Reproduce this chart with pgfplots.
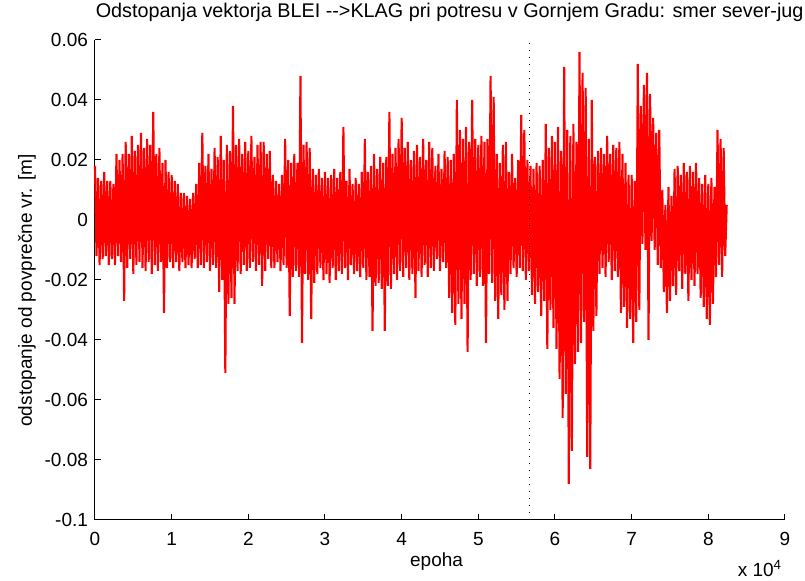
\documentclass[border=0pt]{standalone}
\usepackage{pgfplots}
\pgfplotsset{compat=1.18}
\usepackage{fontspec}
\setmainfont{Liberation Sans}

\begin{document}
\begin{tikzpicture}
\path[use as bounding box] (-47.5pt,-30.5pt) rectangle (355pt,260pt);
\begin{axis}[
  at={(0,0)}, anchor=south west,
  scale only axis,
  width=345pt, height=240pt,
  font=\fontsize{9.5}{11}\selectfont,
  xmin=0, xmax=9,
  ymin=-100, ymax=60,  % y in thousandths of a metre
  axis lines*=left,
  axis line style={black, line width=0.5pt},
  tick align=inside,
  major tick length=3pt,
  tick style={black, line width=0.5pt},
  xtick={0,1,...,9},
  xticklabels={0,1,2,3,4,5,6,7,8,9},
  ytick={-100,-80,-60,-40,-20,0,20,40,60},
  yticklabels={-0.1,-0.08,-0.06,-0.04,-0.02,0,0.02,0.04,0.06},
  xticklabel style={yshift=-2.5pt},
  title={Odstopanja vektorja BLEI -{}->KLAG pri potresu v Gornjem Gradu: smer sever-jug},
  title style={at={(axis description cs:0.514,1)}, anchor=base, yshift=5pt, font=\fontsize{9.9}{11}\selectfont},
  xlabel={epoha},
  xlabel style={at={(axis description cs:0.495,0)}, anchor=center, yshift=-21pt},
  ylabel={odstopanje od povprečne vr. [m]},
  ylabel style={at={(axis description cs:0,0.478)}, anchor=center, yshift=34pt},
  clip=false,
]
% one sample every 200 epochs (0.02 x 10^4), values in mm
\addplot[color=red, line width=1.05pt] table[row sep=\\, x expr=\coordindex/50, y=y] {
y\\
18\\ -12\\ 14\\ -15\\ 13\\ -13\\ 16\\ -12\\ 13\\ -15\\
13\\ -13\\ 12\\ -15\\ 22\\ -12\\ 20\\ -14\\ 22\\ -27\\
26\\ -16\\ 22\\ -13\\ 28\\ -18\\ 23\\ -15\\ 25\\ -14\\
29\\ -16\\ 24\\ -17\\ 27\\ -14\\ 25\\ -18\\ 36\\ -15\\
22\\ -17\\ 24\\ -14\\ 19\\ -31\\ 20\\ -16\\ 16\\ -14\\
15\\ -16\\ 13\\ -14\\ 12\\ -17\\ 9\\ -14\\ 9\\ -16\\
8\\ -15\\ 7\\ -16\\ 9\\ -13\\ 12\\ -16\\ 19\\ -15\\
29\\ -16\\ 18\\ -14\\ 22\\ -17\\ 17\\ -15\\ 24\\ -16\\
21\\ -24\\ 28\\ -20\\ 20\\ -51\\ 25\\ -28\\ 23\\ -26\\
38\\ -28\\ 25\\ -17\\ 27\\ -18\\ 22\\ -15\\ 26\\ -17\\
23\\ -16\\ 28\\ -14\\ 21\\ -17\\ 25\\ -15\\ 26\\ -22\\
26\\ -17\\ 22\\ -13\\ 23\\ -16\\ 15\\ -16\\ 13\\ -14\\
12\\ -17\\ 15\\ -15\\ 27\\ -16\\ 20\\ -32\\ 19\\ -19\\
22\\ -17\\ 19\\ -19\\ 48\\ -41\\ 25\\ -18\\ 26\\ -20\\
24\\ -33\\ 17\\ -21\\ 15\\ -18\\ 17\\ -16\\ 14\\ -20\\
16\\ -18\\ 14\\ -21\\ 15\\ -16\\ 17\\ -20\\ 14\\ -17\\
16\\ -18\\ 31\\ -16\\ 13\\ -20\\ 17\\ -15\\ 12\\ -18\\
14\\ -17\\ 12\\ -19\\ 16\\ -16\\ 27\\ -20\\ 16\\ -19\\
18\\ -37\\ 22\\ -22\\ 17\\ -21\\ 21\\ -23\\ 19\\ -37\\
21\\ -22\\ 36\\ -23\\ 22\\ -18\\ 24\\ -20\\ 27\\ -17\\
34\\ -19\\ 24\\ -16\\ 26\\ -20\\ 20\\ -18\\ 23\\ -26\\
25\\ -17\\ 21\\ -19\\ 27\\ -15\\ 20\\ -19\\ 26\\ -16\\
24\\ -17\\ 18\\ -13\\ 22\\ -17\\ 17\\ -14\\ 23\\ -16\\
21\\ -26\\ 20\\ -31\\ 22\\ -35\\ 40\\ -28\\ 30\\ -33\\
27\\ -28\\ 31\\ -44\\ 26\\ -20\\ 40\\ -18\\ 27\\ -22\\
25\\ -19\\ 28\\ -22\\ 26\\ -41\\ 27\\ -18\\ 48\\ -21\\
41\\ -27\\ 22\\ -33\\ 19\\ -25\\ 25\\ -30\\ 26\\ -27\\
16\\ -18\\ 22\\ -16\\ 14\\ -19\\ 20\\ -16\\ 35\\ -17\\
30\\ -20\\ 20\\ -17\\ 18\\ -25\\ 17\\ -28\\ 19\\ -24\\
18\\ -32\\ 20\\ -27\\ 32\\ -43\\ 24\\ -30\\ 28\\ -36\\
26\\ -43\\ 31\\ -53\\ 23\\ -66\\ 51\\ -58\\ 30\\ -88\\
28\\ -77\\ 32\\ -48\\ 26\\ -44\\ 56\\ -41\\ 49\\ -34\\
44\\ -79\\ 27\\ -83\\ 40\\ -37\\ 21\\ -32\\ 23\\ -18\\
24\\ -16\\ 22\\ -19\\ 28\\ -14\\ 22\\ -20\\ 25\\ -17\\
24\\ -19\\ 26\\ -31\\ 22\\ -29\\ 19\\ -36\\ 15\\ -33\\
15\\ -41\\ 13\\ -34\\ 52\\ -30\\ 38\\ -8\\ 45\\ -10\\
49\\ -40\\ 42\\ -7\\ 34\\ -10\\ 29\\ -15\\ 30\\ -16\\
10\\ -24\\ 5\\ -31\\ 11\\ -27\\ 8\\ -22\\ 17\\ -25\\
18\\ -17\\ 15\\ -23\\ 19\\ -18\\ 16\\ -27\\ 18\\ -20\\
16\\ -22\\ 19\\ -18\\ 14\\ -26\\ 12\\ -29\\ 15\\ -33\\
12\\ -35\\ 14\\ -28\\ 11\\ -19\\ 30\\ -15\\ 27\\ -19\\
24\\ -12\\ 5\\
};
% earthquake epoch
\addplot[black, line width=0.6pt, dash pattern=on 0.6pt off 2.9pt] coordinates {(5.667,-100) (5.667,60)};
\node[anchor=base west, inner sep=0pt] at (axis description cs:0.931,0) [yshift=-28.5pt] {x 10\textsuperscript{4}};
\end{axis}
\end{tikzpicture}
\end{document}
